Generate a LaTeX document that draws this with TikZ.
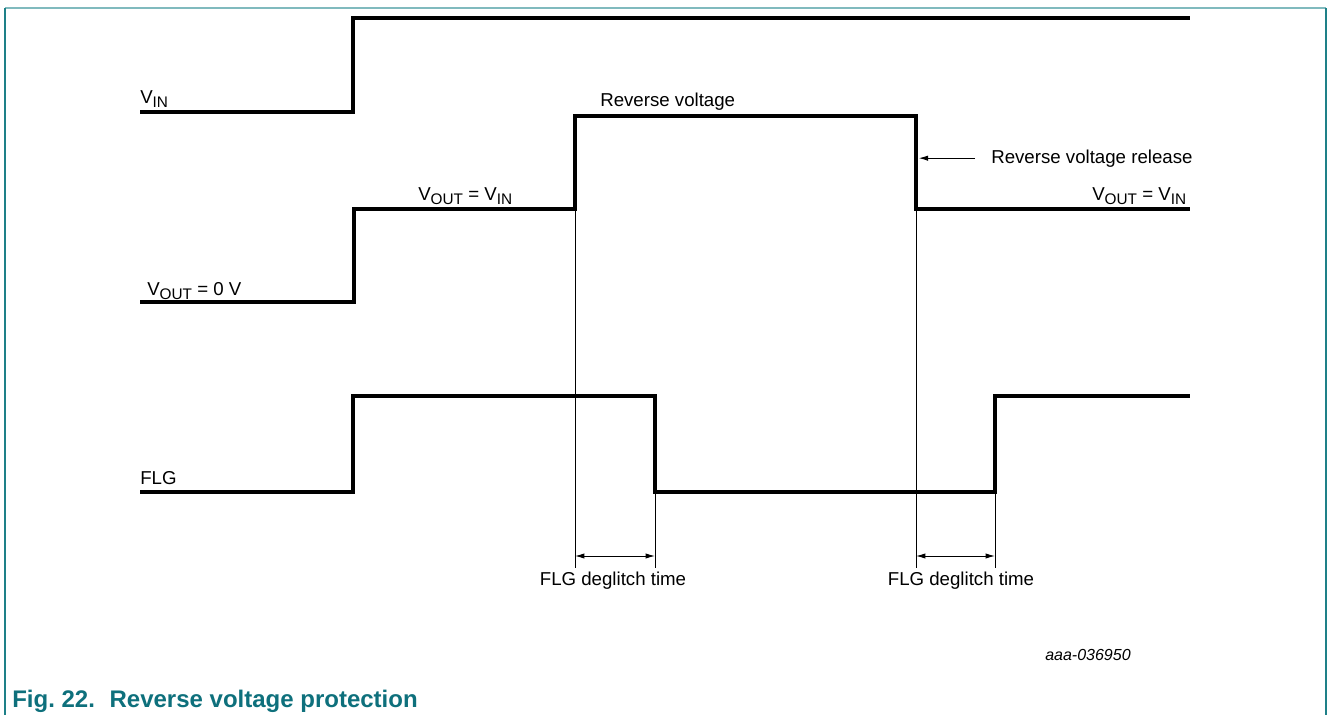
\documentclass[tikz,border=0pt]{standalone}
\usepackage{fontspec}
\setmainfont{Liberation Sans}
\usetikzlibrary{arrows.meta}
\definecolor{capteal}{RGB}{14,112,124}
\definecolor{frameside}{RGB}{30,128,136}
\definecolor{frametop}{RGB}{128,186,190}
\newcommand\lbfont{\fontsize{14}{16}\selectfont}
\newcommand\subs[1]{\raisebox{-3pt}{\fontsize{11.5}{12}\selectfont #1}}
\begin{document}
\begin{tikzpicture}[x=0.75pt, y=-0.75pt,
    wave/.style={line width=2.3pt, line join=miter},
    guide/.style={line width=0.75pt},
    dim/.style={{Latex[length=7pt,width=4pt]}-{Latex[length=7pt,width=4pt]}, line width=0.75pt},
    ptr/.style={-{Latex[length=7pt,width=4pt]}, line width=0.75pt},
    lbl/.style={font=\lbfont, inner sep=0pt, anchor=base west}
  ]
  \useasboundingbox (0,0) rectangle (1328,715);
  % frame
  \draw[frametop, line width=1.5pt] (5,8) -- (1326,8);
  \draw[frameside, line width=1.5pt] (5,8) -- (5,715);
  \draw[frameside, line width=1.5pt] (1326,8) -- (1326,715);
  % key edges
  \coordinate (rv) at (575,209);
  \coordinate (fd) at (655,396);
  \coordinate (rr) at (916,209);
  \coordinate (fu) at (995,492);
  % VIN
  \draw[wave] (140,112) -- (353,112) -- (353,18) -- (1190,18);
  \node[lbl] (vin) at (140,103) {V\subs{IN}};
  % VOUT
  \draw[wave] (140,302) -- (354,302) -- (354,209) -- (rv) -- (575,116)
    -- (916,116) -- (rr) -- (1190,209);
  \node[lbl] (vout0) at (147,295) {V\subs{OUT} = 0 V};
  \node[lbl] (vout1) at (418,200) {V\subs{OUT} = V\subs{IN}};
  \node[lbl] (vout2) at (1092,200) {V\subs{OUT} = V\subs{IN}};
  \node[lbl] (rev) at (600,106) {Reverse voltage};
  \node[lbl] (rel) at (991,163) {Reverse voltage release};
  \draw[ptr] ([xshift=-12]rel.west) -- ([xshift=2]rr |- rel.west);
  % FLG
  \draw[wave] (140,492) -- (353,492) -- (353,396) -- (fd) -- (655,492)
    -- (fu) -- (995,396) -- (1190,396);
  \node[lbl] (flg) at (140,484) {FLG};
  % deglitch guides
  \draw[guide] (rv) -- (rv |- 0,568);
  \draw[guide] (fd) -- (fd |- 0,568);
  \draw[guide] (rr) -- (rr |- 0,568);
  \draw[guide] (fu) -- (fu |- 0,568);
  \draw[dim] (rv |- 0,556) -- (fd |- 0,556);
  \draw[dim] (rr |- 0,556) -- (fu |- 0,556);
  \node[lbl, anchor=base] (dg1) at (613,585) {FLG deglitch time};
  \node[lbl, anchor=base] (dg2) at (961,585) {FLG deglitch time};
  % id and caption
  \node[lbl, font=\fontsize{12}{14}\selectfont\itshape] (ident) at (1045,660) {aaa-036950};
  \node[lbl, font=\fontsize{18}{20}\selectfont\bfseries, text=capteal] (cap) at (12,707)
    {Fig.\ 22.\hspace{11pt}Reverse voltage protection};
\end{tikzpicture}
\end{document}
